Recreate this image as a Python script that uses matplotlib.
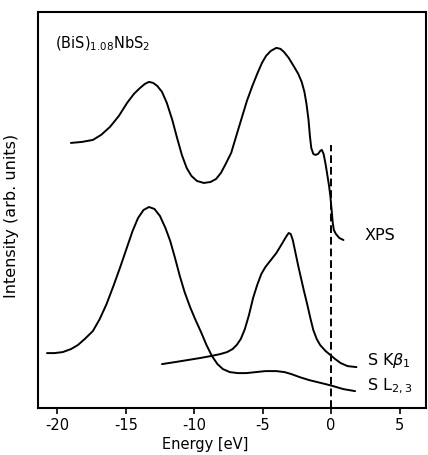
import matplotlib
matplotlib.use("Agg")
from matplotlib import pyplot as plt

# XPS valence band
xps_e = [-19.0, -18.2, -17.4, -16.8, -16.15, -15.5, -14.9, -14.4, -13.95, -13.6,
         -13.3, -13.0, -12.7, -12.35, -12.0, -11.6, -11.25, -10.9, -10.55, -10.2,
         -9.8, -9.3, -8.8, -8.4, -8.05, -7.7, -7.3, -6.75, -6.15, -5.75,
         -5.4, -5.05, -4.75, -4.4, -4.0, -3.7, -3.45, -3.1, -2.7, -2.4,
         -2.15, -1.95, -1.8, -1.65, -1.55, -1.45, -1.3, -1.15, -0.95, -0.8,
         -0.68, -0.55, -0.42, -0.3, -0.15, -0.05, 0.05, 0.12, 0.2, 0.35,
         0.6, 0.9]
xps_i = [265, 266, 268, 273, 281, 292, 305, 314, 320, 324,
         326, 325, 322, 316, 305, 288, 270, 253, 240, 232,
         227, 225, 226, 229, 235, 244, 255, 280, 307, 322,
         334, 345, 352, 357, 360, 359, 356, 350, 341, 334,
         326, 316, 304, 288, 272, 260, 254, 253, 254, 257,
         258, 254, 245, 235, 222, 211, 196, 185, 178, 174,
         170, 168]

# S K beta 1 emission
kb_e = [-12.35, -11.4, -10.5, -9.6, -8.8, -8.1, -7.6, -7.2, -6.9, -6.6,
        -6.3, -6.0, -5.7, -5.4, -5.1, -4.8, -4.4, -4.0, -3.6, -3.3,
        -3.1, -2.95, -2.8, -2.6, -2.4, -2.2, -2.0, -1.75, -1.5, -1.3,
        -1.05, -0.8, -0.4, -0.05, 0.3, 0.7, 1.2, 1.85]
kb_i = [44, 46, 48, 50, 52, 54, 56, 59, 63, 69,
        79, 93, 110, 123, 134, 141, 148, 155, 164, 171,
        175, 174, 168, 155, 142, 130, 118, 104, 89, 78,
        69, 63, 57, 53, 49, 45, 42, 41]

# S L2,3 emission
sl_e = [-20.75, -20.2, -19.6, -19.0, -18.5, -18.0, -17.4, -16.9, -16.4, -15.9,
        -15.4, -14.9, -14.5, -14.1, -13.7, -13.3, -12.9, -12.5, -12.1, -11.75,
        -11.4, -11.05, -10.7, -10.3, -9.9, -9.5, -9.1, -8.7, -8.3, -7.9,
        -7.4, -6.8, -6.2, -5.5, -4.8, -4.0, -3.4, -2.9, -2.3, -1.6,
        -1.0, -0.4, 0.15, 0.9, 1.75]
sl_i = [55, 55, 56, 59, 63, 69, 77, 89, 104, 122,
        141, 161, 177, 190, 198, 201, 199, 192, 180, 167,
        150, 132, 116, 101, 88, 76, 63, 52, 44, 39,
        36, 35, 35, 36, 37, 37, 36, 34, 31, 28,
        26, 24, 22, 19, 17]

ticks = [-20, -15, -10, -5, 0, 5]
tick_labels = ["-20", "-15", "-10", "-5", "0", "5"]

fig = plt.figure(figsize=(4.28, 4.55), dpi=100)
ax = fig.add_axes([0.089, 0.103, 0.907, 0.871])

line_kw = dict(c="black", lw=1.4, solid_joinstyle="round", solid_capstyle="round")
ax.plot(xps_e, xps_i, **line_kw)
ax.plot(kb_e, kb_i, **line_kw)
ax.plot(sl_e, sl_i, **line_kw)
ax.plot([0, 0], [0, 263], c="black", lw=1.4, ls=(0, (4, 2)))

ax.text(2.45, 173, "XPS", fontsize=11.5, va="center", ha="left")
ax.text(2.65, 48, r"S K$\beta_1$", fontsize=11.5, va="center", ha="left")
ax.text(2.65, 22, r"S L$_{2,3}$", fontsize=11.5, va="center", ha="left")
ax.text(0.044, 0.92, r"(BiS)$_{1.08}$NbS$_2$", fontsize=10.5, va="center", ha="left",
        transform=ax.transAxes)

ax.set_xlim(-21.4, 6.95)
ax.set_ylim(0, 396)
ax.set_xticks(ticks)
ax.set_xticklabels(tick_labels)
ax.set_yticks([])
ax.tick_params(axis="x", direction="out", length=4, width=1.2, labelsize=10.5, pad=3)
for s in ax.spines.values():
    s.set_linewidth(1.5)

ax.set_xlabel("Energy [eV]", fontsize=10.5)
ax.xaxis.set_label_coords(0.43, -0.072)
ax.set_ylabel("Intensity (arb. units)", fontsize=11.5)
ax.yaxis.set_label_coords(-0.05, 0.485)

fig.savefig("out.png", dpi=100)
